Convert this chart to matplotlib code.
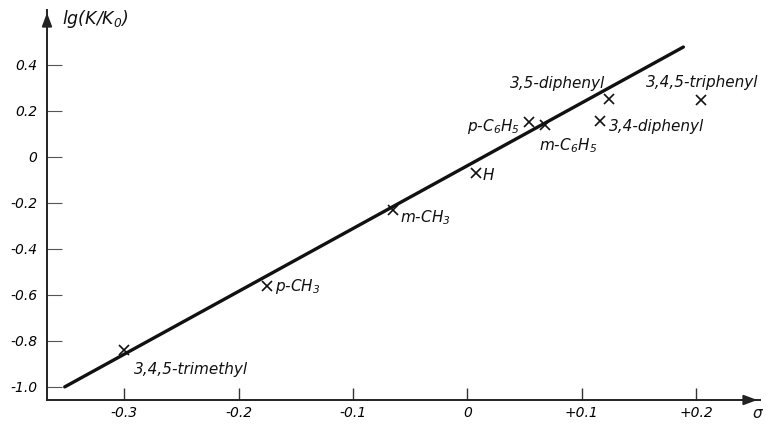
import matplotlib
matplotlib.use("Agg")
import matplotlib.pyplot as plt
import numpy as np

# ---- data ----
sigma = [-0.30, -0.175, -0.065, 0.008, 0.054, 0.068, 0.124, 0.116, 0.204]
lgK = [-0.84, -0.56, -0.23, -0.07, 0.15, 0.14, 0.25, 0.157, 0.248]
names = ["3,4,5-trimethyl", "p-CH$_3$", "m-CH$_3$", "H", "p-C$_6$H$_5$",
         "m-C$_6$H$_5$", "3,5-diphenyl", "3,4-diphenyl", "3,4,5-triphenyl"]
fit_sigma = [-0.352, 0.189]
fit_lg = [-1.0, 0.478]
xticks = [-0.3, -0.2, -0.1, 0.0, 0.1, 0.2]
xticklabels = ["-0.3", "-0.2", "-0.1", "0", "+0.1", "+0.2"]
yticks = [0.4, 0.2, 0.0, -0.2, -0.4, -0.6, -0.8, -1.0]
yticklabels = ["0.4", "0.2", "0", "-0.2", "-0.4", "-0.6", "-0.8", "-1.0"]

# label placement (offset pixels, alignment)
offsets = [(10, -19, "left"), (8, -1, "left"), (7, -8, "left"), (6, -2, "left"),
           (-9, -4, "right"), (-6, -21, "left"), (-4, 16, "right"),
           (9, -6, "left"), (2, 17, "center")]

plt.rcParams["mathtext.fontset"] = "custom"
plt.rcParams["mathtext.rm"] = "DejaVu Sans:italic"
plt.rcParams["mathtext.it"] = "DejaVu Sans:italic"
plt.rcParams["font.family"] = ["DejaVu Sans"]

fig = plt.figure(figsize=(7.66, 4.25), dpi=100, facecolor="white")
ax = fig.add_axes([47 / 766, 25 / 425, (760 - 47) / 766, (415 - 25) / 425])
ax.set_facecolor("white")
ax.set_xlim(-0.3675, 0.256)
ax.set_ylim(-1.057, 0.639)

for s in ["top", "right"]:
    ax.spines[s].set_visible(False)
for s in ["left", "bottom"]:
    ax.spines[s].set_linewidth(1.4)
    ax.spines[s].set_color("#222222")

# axis arrows
ax.annotate("", xy=(1.0, 0), xycoords="axes fraction", xytext=(0.97, 0),
            arrowprops=dict(arrowstyle="-|>,head_length=0.8,head_width=0.3",
                            color="#222222", lw=1.4))
ax.annotate("", xy=(0, 1.0), xycoords="axes fraction", xytext=(0, 0.95),
            arrowprops=dict(arrowstyle="-|>,head_length=0.8,head_width=0.3",
                            color="#222222", lw=1.4))

ax.set_xticks(xticks)
ax.set_xticklabels(xticklabels, fontstyle="italic", fontsize=10)
ax.set_yticks(yticks)
ax.set_yticklabels(yticklabels, fontstyle="italic", fontsize=10)
ax.tick_params(axis="x", direction="in", length=9, width=1.0, pad=4, color="#333333")
ax.tick_params(axis="y", direction="in", length=11, width=0.8, pad=7, color="#555555")

ax.plot(fit_sigma, fit_lg, color="#111111", lw=2.4, solid_capstyle="round")
ax.plot(sigma, lgK, linestyle="none", marker="x", color="#111111",
        markersize=6.5, markeredgewidth=1.2)

for x, y, n, (dx, dy, ha) in zip(sigma, lgK, names, offsets):
    ax.annotate(n, (x, y), xytext=(dx, dy), textcoords="offset pixels",
                ha=ha, va="center", fontsize=11, fontstyle="italic",
                color="#111111")

fig.text(62 / 766, 1 - 19 / 425, "lg(K/K$_0$)", fontsize=12.5,
         fontstyle="italic", ha="left", va="center", color="#111111")
fig.text(757 / 766, 1 - 414 / 425, "σ", fontsize=11,
         fontstyle="italic", ha="center", va="center", color="#111111")

fig.savefig("out.png", dpi=100, facecolor="white")
